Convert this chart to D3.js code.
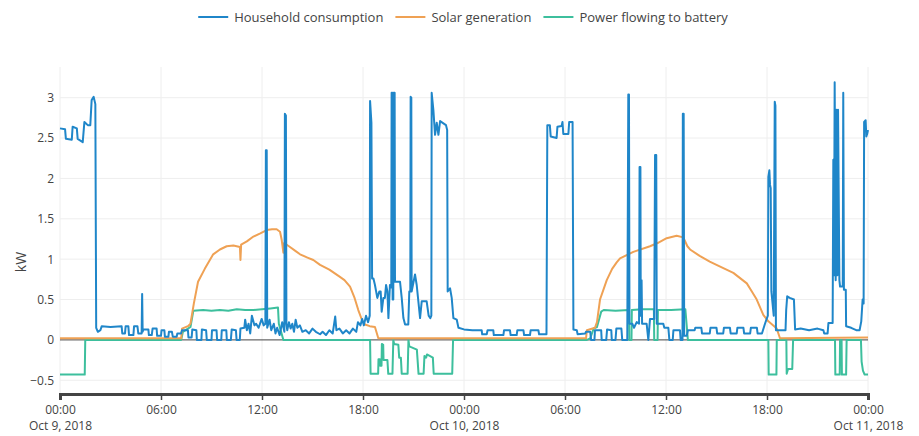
<!DOCTYPE html>
<html>
<head>
<meta charset="utf-8">
<script src="https://cdn.jsdelivr.net/npm/d3@7"></script>
<style>
  body { margin: 0; background: #fff; }
  svg text { font-family: "Open Sans", Verdana, Arial, sans-serif; fill: #444; }
</style>
</head>
<body>
<script>
// hours since Oct 9 2018 00:00, value in kW
let household = [
  [0,2.62],[0.3,2.61],[0.35,2.49],[0.7,2.48],[0.75,2.64],[1.0,2.62],[1.05,2.49],[1.35,2.45],[1.45,2.7],
  [1.65,2.66],[1.8,2.66],[1.88,2.97],[2.0,3.01],[2.1,2.92],[2.15,0.15],[2.25,0.1],[2.4,0.12],[2.48,0.17],
  [3.0,0.16],[3.66,0.17],[3.7,0.08],[3.86,0.08],[3.9,0.17],[4.06,0.17],[4.1,0.06],[4.36,0.06],[4.4,0.17],
  [4.6,0.17],[4.65,0.08],[4.85,0.08],[4.88,0.57],[4.91,0.1],[4.95,0.13],[5.25,0.13],[5.28,0.06],[5.45,0.06],
  [5.5,0.14],[5.74,0.14],[5.77,0.05],[6.0,0.05],[6.03,0.12],[6.2,0.12],[6.23,0.04],[6.44,0.04],[6.47,0.1],
  [6.65,0.1],[6.7,0.04],[6.93,0.04],[6.97,0.08],[7.19,0.08],[7.25,0.12],[7.6,0.12],[7.63,0.03],[7.82,0.03],
  [7.86,0.13],[8.1,0.12],[8.13,0.0],[8.4,0.0],[8.43,0.13],[8.68,0.12],[8.72,0.0],[9.0,0.0],[9.03,0.12],
  [9.3,0.12],[9.33,0.0],[9.58,0.0],[9.61,0.12],[9.88,0.12],[9.91,0.0],[10.15,0.0],[10.2,0.13],[10.45,0.12],
  [10.49,0.0],[10.68,0.0],[10.72,0.14],[10.95,0.15],[11.0,0.25],[11.1,0.12],[11.2,0.2],[11.3,0.08],[11.4,0.3],
  [11.55,0.18],[11.65,0.2],[11.8,0.15],[11.98,0.26],[12.1,0.18],[12.2,0.2],[12.23,2.35],[12.28,2.35],[12.31,0.15],
  [12.45,0.25],[12.55,0.12],[12.7,0.2],[12.8,0.08],[12.9,0.15],[13.05,0.06],[13.2,0.22],[13.33,0.1],[13.36,2.8],
  [13.42,2.78],[13.45,0.2],[13.5,0.12],[13.6,0.22],[13.7,0.14],[13.8,0.2],[13.9,0.1],[14.0,0.25],[14.1,0.15],
  [14.25,0.18],[14.4,0.1],[14.6,0.12],[14.8,0.08],[15.0,0.14],[15.2,0.1],[15.45,0.07],[15.6,0.1],[15.8,0.06],
  [16.0,0.12],[16.2,0.08],[16.35,0.29],[16.42,0.12],[16.6,0.14],[16.8,0.08],[17.0,0.12],[17.2,0.08],[17.4,0.14],
  [17.6,0.1],[17.7,0.22],[17.85,0.18],[17.95,0.26],[18.05,0.18],[18.18,0.3],[18.3,0.22],[18.4,0.3],[18.42,2.96],
  [18.5,2.69],[18.54,0.76],[18.62,0.76],[18.71,0.68],[18.85,0.52],[18.97,0.6],[19.05,0.6],[19.11,0.35],
  [19.21,0.52],[19.3,0.52],[19.37,0.68],[19.45,0.6],[19.51,0.27],[19.6,0.68],[19.68,0.65],[19.7,3.06],
  [19.74,3.06],[19.76,0.5],[19.8,0.5],[19.82,3.06],[19.88,3.06],[19.9,0.72],[20.2,0.72],[20.3,0.52],[20.4,0.27],
  [20.5,0.19],[20.69,0.19],[20.75,0.6],[20.81,0.6],[20.83,3.01],[20.87,3.0],[20.89,0.6],[21.09,0.81],[21.19,0.68],
  [21.39,0.27],[21.49,0.48],[21.78,0.48],[21.9,0.3],[22.0,0.27],[22.06,0.3],[22.08,3.06],[22.18,2.85],[22.28,2.54],
  [22.38,2.69],[22.48,2.54],[22.58,2.71],[22.93,2.66],[23.0,2.6],[23.03,0.6],[23.17,0.64],[23.27,0.52],[23.37,0.27],
  [23.57,0.25],[23.67,0.15],[24.0,0.13],[24.5,0.12],[25.05,0.12],[25.08,0.07],[25.35,0.07],[25.4,0.12],
  [25.74,0.12],[25.77,0.06],[26.34,0.06],[26.38,0.12],[26.73,0.12],[26.77,0.06],[27.13,0.06],[27.17,0.12],
  [27.53,0.12],[27.57,0.06],[27.92,0.06],[27.96,0.12],[28.42,0.12],[28.46,0.07],[28.9,0.07],[28.95,2.66],
  [29.1,2.66],[29.15,2.52],[29.5,2.5],[29.55,2.64],[29.8,2.65],[29.85,2.7],[29.9,2.55],[30.2,2.55],[30.25,2.7],
  [30.45,2.7],[30.5,0.13],[30.7,0.12],[30.75,0.07],[31.2,0.08],[31.25,0.1],[31.5,0.1],[31.55,0.0],[31.75,0.0],
  [31.78,0.12],[32.15,0.12],[32.18,0.0],[32.45,0.0],[32.5,0.13],[32.75,0.12],[32.78,0.0],[33.0,0.0],[33.05,0.14],
  [33.35,0.14],[33.4,0.0],[33.7,0.0],[33.76,3.04],[33.8,3.04],[33.83,0.2],[34.0,0.2],[34.1,0.15],[34.26,0.22],
  [34.4,0.2],[34.43,2.14],[34.48,2.14],[34.5,0.3],[34.55,0.74],[34.58,0.2],[34.85,0.2],[34.95,0.0],[35.05,0.26],
  [35.3,0.26],[35.35,2.29],[35.42,2.29],[35.45,0.2],[35.84,0.2],[35.9,0.15],[36.14,0.15],[36.2,0.0],[36.4,0.0],
  [36.44,0.12],[36.83,0.12],[36.87,0.0],[36.98,0.0],[37.0,2.8],[37.05,2.8],[37.08,0.05],[37.23,0.05],[37.3,0.12],
  [37.7,0.12],[37.74,0.15],[38.1,0.15],[38.14,0.08],[38.6,0.08],[38.64,0.15],[39.0,0.15],[39.04,0.08],[39.4,0.08],
  [39.44,0.15],[39.8,0.15],[39.84,0.08],[40.2,0.08],[40.24,0.15],[40.6,0.15],[40.64,0.08],[41.0,0.08],[41.04,0.15],
  [41.4,0.15],[41.44,0.08],[41.7,0.08],[41.88,0.2],[42.05,0.3],[42.08,2.02],[42.14,2.1],[42.18,1.92],[42.22,1.88],
  [42.26,0.6],[42.4,0.3],[42.46,2.95],[42.5,2.9],[42.53,0.12],[42.6,0.12],[43.1,0.12],[43.14,0.37],[43.2,0.54],
  [43.35,0.52],[43.6,0.5],[43.67,0.13],[44.0,0.14],[44.5,0.12],[45.0,0.14],[45.35,0.12],[45.4,0.08],[45.6,0.08],
  [45.65,0.21],[45.9,0.21],[45.94,2.23],[45.98,0.8],[46.02,3.19],[46.08,0.74],[46.12,2.85],[46.18,0.8],[46.22,2.85],
  [46.3,0.74],[46.34,0.66],[46.5,0.66],[46.53,3.06],[46.57,0.62],[46.68,0.62],[46.7,0.17],[47.0,0.15],[47.3,0.12],
  [47.5,0.12],[47.6,0.23],[47.68,0.5],[47.74,0.45],[47.77,2.7],[47.86,2.72],[47.9,2.52],[47.95,2.55],[48,2.6]
]

let solar = [
  [0,0.02],[7.2,0.02],[7.25,0.14],[7.6,0.17],[7.75,0.2],[7.95,0.45],[8.2,0.72],[8.6,0.88],[9.1,1.06],
  [9.5,1.12],[9.9,1.16],[10.3,1.17],[10.69,1.15],[10.72,0.99],[10.76,1.18],[11.1,1.22],[11.49,1.28],[11.9,1.32],
  [12.28,1.36],[12.6,1.37],[12.87,1.37],[13.07,1.34],[13.17,1.24],[13.27,1.08],[13.32,1.2],[13.6,1.16],[14.0,1.1],
  [14.26,1.06],[14.7,1.02],[15.05,0.99],[15.45,0.93],[16.0,0.87],[16.63,0.78],[16.9,0.74],[17.23,0.66],[17.5,0.52],
  [17.72,0.37],[17.95,0.24],[18.12,0.19],[18.4,0.17],[18.71,0.16],[18.91,0.02],[31.25,0.02],[31.3,0.12],
  [31.78,0.15],[31.9,0.22],[32.08,0.5],[32.48,0.74],[32.8,0.88],[33.07,0.96],[33.27,1.01],[34.06,1.09],
  [35.05,1.16],[35.5,1.2],[36.04,1.26],[36.63,1.29],[37.03,1.27],[37.27,1.16],[37.43,1.12],[38.0,1.04],
  [38.6,0.97],[39.0,0.93],[40.0,0.83],[40.8,0.7],[41.1,0.6],[41.39,0.5],[41.78,0.31],[42.08,0.23],[42.58,0.14],
  [42.77,0.02],[48,0.03]
]

let battery = [
  [0,-0.43],[1.47,-0.43],[1.5,0],[7.2,0],[7.3,0.1],[7.6,0.14],[7.75,0.16],[7.92,0.36],[8.5,0.37],[9.0,0.36],
  [9.5,0.37],[10.0,0.36],[10.5,0.38],[11.0,0.37],[11.5,0.37],[12.0,0.38],[12.5,0.39],[12.95,0.4],[13.0,0.2],
  [13.27,0],[18.42,0],[18.45,-0.42],[18.9,-0.42],[18.92,-0.24],[19.0,-0.24],[19.02,-0.32],[19.1,-0.32],
  [19.12,-0.05],[19.2,-0.06],[19.22,-0.25],[19.45,-0.25],[19.5,-0.42],[19.75,-0.42],[19.8,0],[19.85,-0.05],
  [20.1,-0.06],[20.15,-0.22],[20.25,-0.22],[20.3,-0.42],[20.65,-0.42],[20.7,0],[20.75,-0.08],[21.2,-0.12],
  [21.3,-0.42],[21.6,-0.42],[21.65,-0.2],[21.75,-0.22],[21.8,-0.18],[22.15,-0.22],[22.2,-0.42],[23.3,-0.42],
  [23.35,0],[31.3,0],[31.5,0.02],[31.7,0.14],[31.9,0.16],[32.15,0.35],[32.3,0.37],[33.0,0.36],[33.8,0.37],
  [33.82,0],[33.95,0],[33.97,0.37],[34.6,0.38],[35.28,0.38],[35.3,0],[35.5,0],[35.52,0.37],[36.3,0.37],
  [37.15,0.38],[37.3,0],[42.08,0],[42.1,-0.43],[42.56,-0.43],[42.58,0],[43.15,0],[43.17,-0.42],[43.25,-0.36],
  [43.5,-0.36],[43.55,0],[46.04,0],[46.06,-0.43],[46.32,-0.43],[46.34,0],[46.43,0],[46.45,-0.43],[46.7,-0.43],
  [46.73,0],[47.58,0],[47.62,-0.27],[47.7,-0.38],[47.8,-0.43],[48,-0.43]
]

let seriesNames = ['Household consumption', 'Solar generation', 'Power flowing to battery']
let seriesColors = ['#1f86c9', '#efa154', '#3dbf9d']
let yTicks = [-0.5, 0, 0.5, 1, 1.5, 2, 2.5, 3]

let start = new Date(2018, 9, 9)
function toDate(h) { return new Date(start.getTime() + h * 3600000) }

let svg = d3.select('body').append('svg')
    .attr('width', 919)
    .attr('height', 436)

let xScale = d3.scaleTime()
    .domain([start, new Date(2018, 9, 11)])
    .range([60, 868])

let yScale = d3.scaleLinear()
    .domain([-0.67, 3.38])
    .range([394, 67])

// grid
svg.append('g').selectAll('line')
    .data(xScale.ticks(d3.timeHour.every(6)))
    .enter().append('line')
    .attr('x1', d => xScale(d)).attr('x2', d => xScale(d))
    .attr('y1', 67).attr('y2', 394)
    .attr('stroke', '#eee')

svg.append('g').selectAll('line')
    .data(yTicks.filter(d => d != 0))
    .enter().append('line')
    .attr('x1', 60).attr('x2', 868)
    .attr('y1', d => yScale(d)).attr('y2', d => yScale(d))
    .attr('stroke', '#eee')

// zero line
svg.append('line')
    .attr('x1', 60).attr('x2', 868)
    .attr('y1', yScale(0)).attr('y2', yScale(0))
    .attr('stroke', '#444')

// y axis labels
let yAxis = d3.axisLeft(yScale)
    .tickValues(yTicks)
    .tickSize(0)
    .tickPadding(4)
    .tickFormat(d => d < 0 ? '\u2212' + Math.abs(d) : d)

let yg = svg.append('g')
    .attr('transform', 'translate(58,0)')
    .call(yAxis)
yg.select('.domain').remove()
yg.selectAll('text').style('font-size', '12px').attr('fill', '#444')

svg.append('text')
    .attr('transform', 'translate(26,262) rotate(-90)')
    .attr('text-anchor', 'middle')
    .style('font-size', '14px')
    .text('kW')

// lines
let line = d3.line()
    .x(d => xScale(toDate(d[0])))
    .y(d => yScale(d[1]))

let allSeries = [household, solar, battery]
let drawOrder = [2, 1, 0]
drawOrder.forEach(function(i) {
    svg.append('path')
        .datum(allSeries[i])
        .attr('d', line)
        .attr('fill', 'none')
        .attr('stroke', seriesColors[i])
        .attr('stroke-width', 2)
        .attr('stroke-linejoin', 'round')
})

// x axis
let xAxis = d3.axisBottom(xScale)
    .ticks(d3.timeHour.every(6))
    .tickSize(6)
    .tickPadding(5)
    .tickFormat(d3.timeFormat('%H:%M'))

let xg = svg.append('g')
    .attr('transform', 'translate(0,394)')
    .call(xAxis)
xg.select('.domain').attr('stroke', '#444').attr('stroke-width', 3)
xg.selectAll('.tick line').attr('stroke', '#444').attr('stroke-width', 1.5)
xg.selectAll('text').style('font-size', '12px').attr('fill', '#444')
xg.selectAll('.tick')
    .filter(d => d.getHours() == 0)
    .append('text')
    .attr('y', 27)
    .attr('dy', '0.71em')
    .attr('text-anchor', 'middle')
    .style('font-size', '12px')
    .attr('fill', '#444')
    .text(d3.timeFormat('%b %-d, %Y'))

// legend
let legend = svg.append('g')
let lx = 0
seriesNames.forEach(function(name, i) {
    let g = legend.append('g').attr('transform', 'translate(' + lx + ',0)')
    g.append('line')
        .attr('x1', 0).attr('x2', 30)
        .attr('y1', 0).attr('y2', 0)
        .attr('stroke', seriesColors[i])
        .attr('stroke-width', 2)
    let t = g.append('text')
        .attr('x', 36).attr('y', 4.5)
        .style('font-size', '13px')
        .text(name)
    lx += 36 + t.node().getComputedTextLength() + 12
})
legend.attr('transform', 'translate(' + (463 - (lx - 12) / 2) + ',17)')
</script>
</body>
</html>
